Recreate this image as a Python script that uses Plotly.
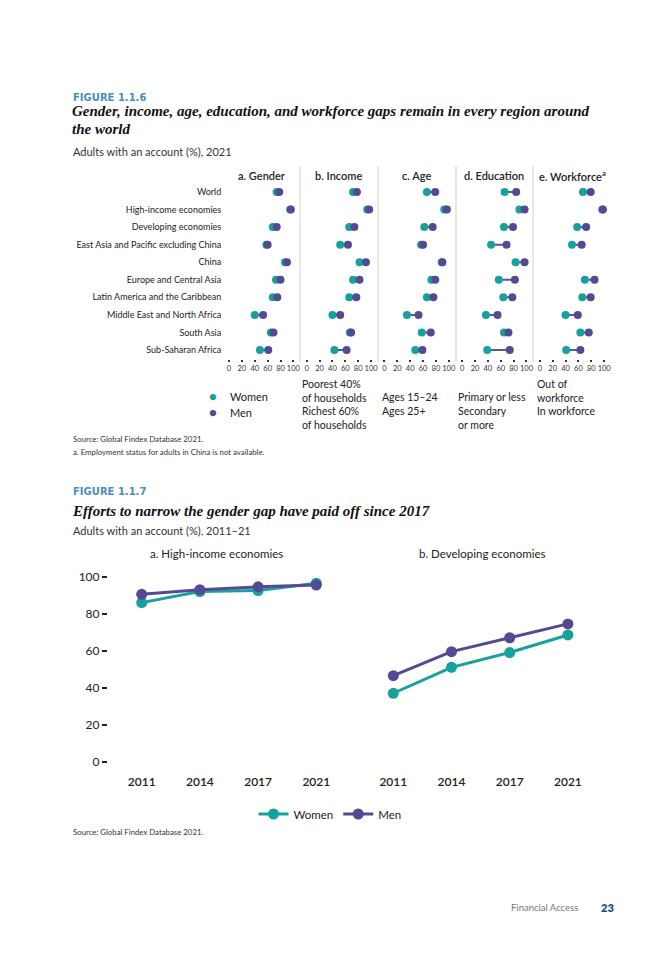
import plotly.graph_objects as go

# ---------------- DATA ----------------
regions = ["World", "High-income economies", "Developing economies",
           "East Asia and Pacific excluding China", "China",
           "Europe and Central Asia", "Latin America and the Caribbean",
           "Middle East and North Africa", "South Asia", "Sub-Saharan Africa"]

panel_titles = ["a. Gender", "b. Income", "c. Age", "d. Education", "e. Workforce<sup>a</sup>"]

gender_women = [74, 95, 68, 58, 87, 73, 68, 40, 65, 48]
gender_men = [78, 96, 74, 60, 90, 80, 75, 53, 69, 61]
income_poorest40 = [72, 94, 66, 52, 82, 72, 66, 40, 67, 43]
income_richest60 = [78, 97, 74, 64, 92, 82, 77, 52, 69, 62]
age_15_24 = [66, 93, 62, 57, 89, 73, 66, 35, 58, 48]
age_25_plus = [79, 97, 75, 60, 90, 79, 76, 53, 72, 59]
edu_primary = [66, 89, 65, 45, 83, 57, 64, 37, 65, 39]
edu_secondary = [84, 97, 79, 69, 97, 82, 78, 55, 72, 74]
work_out = [67, 97, 58, 50, None, 70, 66, 40, 63, 41]
work_in = [79, 98, 72, 65, None, 85, 79, 59, 76, 63]

x_ticks = [0, 20, 40, 60, 80, 100]

years = ["2011", "2014", "2017", "2021"]
hi_women = [86, 92, 92.5, 96.5]
hi_men = [90.5, 93, 94.5, 95.5]
dev_women = [37, 51, 59, 68.5]
dev_men = [46.5, 59.5, 67, 74.5]
y_ticks = [0, 20, 40, 60, 80, 100]

# ---------------- STYLE ----------------
OFF = 8  # page body margin
W, H = 672 - 2 * OFF, 960 - 2 * OFF
TEAL = "#17a19d"
PURPLE = "#544a94"
LINE = "#5d5597"
TXT = "#222222"
FONT = "Lato"
SERIF = "Liberation Serif"
BLUE = "#4b8cc4"


def fx(p):
    return (p - OFF) / W


def fy(p):
    return 1 - (p - OFF) / H


fig = go.Figure()

pairs = [(gender_women, gender_men), (income_poorest40, income_richest60),
         (age_15_24, age_25_plus), (edu_primary, edu_secondary), (work_out, work_in)]

layout_axes = {}
scale = 0.644
for i, (lo, hi) in enumerate(pairs):
    xa = "x" if i == 0 else f"x{i+1}"
    cx, cy = [], []
    for r, a, b in zip(regions, lo, hi):
        if a is None or b is None:
            continue
        cx += [a, b, None]
        cy += [r, r, None]
    fig.add_trace(go.Scatter(x=cx, y=cy, mode="lines", line=dict(color=LINE, width=2),
                             xaxis=xa, yaxis="y", showlegend=False, hoverinfo="skip"))
    fig.add_trace(go.Scatter(x=lo, y=regions, mode="markers", name="Women",
                             marker=dict(color=TEAL, size=8), xaxis=xa, yaxis="y",
                             showlegend=False))
    fig.add_trace(go.Scatter(x=hi, y=regions, mode="markers", name="Men",
                             marker=dict(color=PURPLE, size=8), xaxis=xa, yaxis="y",
                             showlegend=False))
    zero = 229 + i * 77.7
    rng = [-10.5, 110]
    dom = [fx(zero + rng[0] * scale), fx(zero + rng[1] * scale)]
    layout_axes["xaxis" if i == 0 else f"xaxis{i+1}"] = dict(
        domain=dom, range=rng, anchor="y", tickvals=x_ticks, ticks="outside",
        ticklen=2, tickwidth=2, tickcolor="#333", showgrid=False, zeroline=False,
        showline=False, tickangle=0,
        tickfont=dict(size=7.5, color="#333", family=FONT), fixedrange=True)
    fig.add_annotation(x=fx(zero + 50 * scale), y=fy(175), xref="paper", yref="paper",
                       text=panel_titles[i], showarrow=False, xanchor="center", yanchor="middle",
                       font=dict(size=11, color=TXT, family=FONT, weight=600))

layout_axes["yaxis"] = dict(domain=[fy(358.8), fy(183.2)], type="category",
                            categoryarray=regions, range=[9.5, -0.5], showgrid=False,
                            zeroline=False, showline=False, ticks="",
                            tickfont=dict(size=9, color=TXT, family=FONT), anchor="x",
                            fixedrange=True)

for sx in [300, 378, 456, 533]:
    fig.add_shape(type="line", xref="paper", yref="paper", x0=fx(sx), x1=fx(sx),
                  y0=fy(166), y1=fy(362), line=dict(color="#cfcfcf", width=1))

# bottom line charts
fig.add_trace(go.Scatter(x=years, y=hi_women, mode="lines+markers", name="Women",
                         line=dict(color=TEAL, width=3), marker=dict(size=11, color=TEAL),
                         xaxis="x6", yaxis="y2"))
fig.add_trace(go.Scatter(x=years, y=hi_men, mode="lines+markers", name="Men",
                         line=dict(color=PURPLE, width=3), marker=dict(size=11, color=PURPLE),
                         xaxis="x6", yaxis="y2"))
fig.add_trace(go.Scatter(x=years, y=dev_women, mode="lines+markers", name="Women",
                         line=dict(color=TEAL, width=3), marker=dict(size=11, color=TEAL),
                         xaxis="x7", yaxis="y3", showlegend=False))
fig.add_trace(go.Scatter(x=years, y=dev_men, mode="lines+markers", name="Men",
                         line=dict(color=PURPLE, width=3), marker=dict(size=11, color=PURPLE),
                         xaxis="x7", yaxis="y3", showlegend=False))

step = 58.2
xr = [-0.58, 3.5]
ydom = [fy(769.1), fy(569.3)]
for ax, ya, left in [("xaxis6", "y2", 141.7), ("xaxis7", "y3", 393.3)]:
    layout_axes[ax] = dict(domain=[fx(left + xr[0] * step), fx(left + xr[1] * step)],
                           range=xr, anchor=ya, type="category", showgrid=False,
                           zeroline=False, showline=False, ticks="", ticklabelstandoff=4,
                           tickfont=dict(size=12, color=TXT, family=FONT, weight=600),
                           fixedrange=True)
layout_axes["yaxis2"] = dict(domain=ydom, range=[-4, 104], anchor="x6", tickvals=y_ticks,
                             ticks="outside", ticklen=5, tickwidth=1.5, tickcolor=TXT,
                             showgrid=False, zeroline=False, showline=False,
                             tickfont=dict(size=12, color=TXT, family=FONT), fixedrange=True)
layout_axes["yaxis3"] = dict(domain=ydom, range=[-4, 104], anchor="x7", showticklabels=False,
                             ticks="", showgrid=False, zeroline=False, showline=False,
                             fixedrange=True)


def ann(x, y, text, size=11, color=TXT, family=FONT, xanchor="left", yanchor="middle", **kw):
    fig.add_annotation(x=fx(x), y=fy(y), xref="paper", yref="paper", text=text,
                       showarrow=False, xanchor=xanchor, yanchor=yanchor, align="left",
                       font=dict(size=size, color=color, family=family, **kw))


# Figure 1.1.6 texts
ann(71, 97, "FIGURE 1.1.6", size=10, color=BLUE, family="DejaVu Sans", weight=700)
ann(70, 111, "<i>Gender, income, age, education, and workforce gaps remain in every region around</i>",
    size=15, color="#111", family=SERIF, weight=600)
ann(70, 129, "<i>the world</i>", size=15, color="#111", family=SERIF, weight=600)
ann(71, 151, "Adults with an account (%), 2021", size=11, color="#333")

# top legend (key)
ann(213, 396, "●", size=13, color=TEAL, xanchor="center")
ann(228, 396, "Women")
ann(213, 412, "●", size=13, color=PURPLE, xanchor="center")
ann(228, 412, "Men")

for x, y, t in [(300, 391, "Poorest 40%<br>of households"),
                (300, 418, "Richest 60%<br>of households"),
                (380, 397, "Ages 15–24"), (380, 411, "Ages 25+"),
                (456, 397, "Primary or less"), (456, 418, "Secondary<br>or more"),
                (535, 391, "Out of<br>workforce"), (535, 411, "In workforce")]:
    ann(x, y, t, size=10.5)

ann(71, 439, "Source: Global Findex Database 2021.", size=7.8, color="#333")
ann(71, 452, "a. Employment status for adults in China is not available.", size=7.8, color="#333")

# Figure 1.1.7 texts
ann(71, 491, "FIGURE 1.1.7", size=10, color=BLUE, family="DejaVu Sans", weight=700)
ann(70, 511, "<i>Efforts to narrow the gender gap have paid off since 2017</i>",
    size=15, color="#111", family=SERIF, weight=600)
ann(71, 530, "Adults with an account (%), 2011–21", size=11, color="#333")
ann(216, 553, "a. High-income economies", size=11.5, xanchor="center")
ann(482, 553, "b. Developing economies", size=11.5, xanchor="center")
ann(71, 832, "Source: Global Findex Database 2021.", size=7.8, color="#333")

# footer
ann(580, 907, "Financial Access", size=9.5, color="#777", xanchor="right")
ann(599, 907, "23", size=11, color="#1d4f7a", weight=800)

fig.update_layout(
    width=W, height=H, margin=dict(l=0, r=0, t=0, b=0),
    paper_bgcolor="white", plot_bgcolor="white",
    font=dict(family=FONT, color=TXT),
    showlegend=True,
    legend=dict(orientation="h", x=fx(330), y=fy(814), xanchor="center", yanchor="middle",
                font=dict(size=11.5, color=TXT, family=FONT), bgcolor="rgba(0,0,0,0)"),
    **layout_axes,
)

fig.write_html("out.html")
